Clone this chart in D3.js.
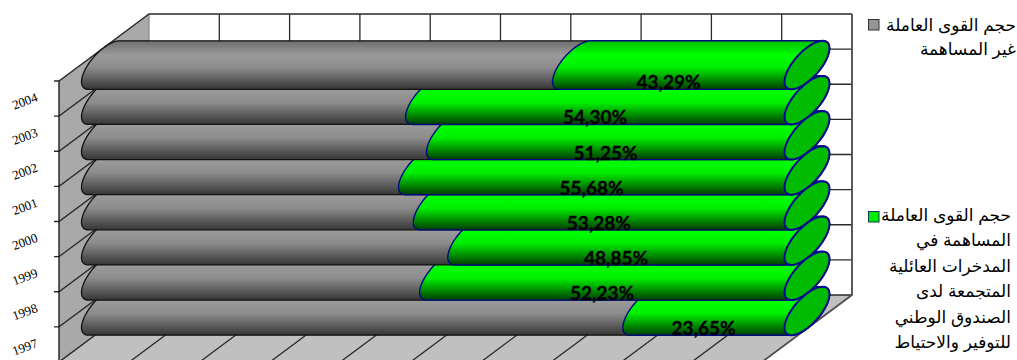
<!DOCTYPE html>
<html><head><meta charset="utf-8">
<script src="https://cdn.jsdelivr.net/npm/d3@7/dist/d3.min.js"></script>
<style>html,body{margin:0;padding:0;background:#fff;overflow:hidden}svg{display:block}</style>
</head><body><svg id="c" width="1017" height="360"></svg>
<script>
const years=["2004","2003","2002","2001","2000","1999","1998","1997"];
const greyShare=[67,46.1,49.07,45.1,47.2,52.1,48.1,77];
const greenLabels=["43,29%","54,30%","51,25%","55,68%","53,28%","48,85%","52,23%","23,65%"];
const legendGrey=["حجم القوى العاملة","غير المساهمة"];
const legendGreen=["حجم القوى العاملة","المساهمة في","المدخرات العائلية","المتجمعة لدى","الصندوق الوطني","للتوفير والاحتياط"];
const xTicks=d3.range(0,101,10);

const svg=d3.select("#c");
const x=d3.scaleLinear().domain([0,100]).range([59,762]);
const y=d3.scaleBand().domain(years).range([81,362]);
const dx=90,dy=-67;
const bh=y.bandwidth();
const line=d3.line();
const yEdges=years.map(d=>y(d)).concat([y.range()[1]]);

const defs=svg.append("defs");
function grad(id,stops){
  const g=defs.append("linearGradient").attr("id",id).attr("x1",0).attr("y1",0).attr("x2",0).attr("y2",1);
  stops.forEach(s=>g.append("stop").attr("offset",s[0]).attr("stop-color",s[1]));
}
grad("gGrey",[[0,"#6e6e6e"],[.3,"#9a9a9a"],[.55,"#8c8c8c"],[1,"#363636"]]);
grad("gGreen",[[0,"#00c000"],[.3,"#00ff00"],[.55,"#00ef00"],[1,"#003c00"]]);

const poly=(pts,fill)=>svg.append("path").attr("d",line(pts)+"Z").attr("fill",fill);
const x0=x(0),x1=x(100),yT=y.range()[0],yB=y.range()[1];
poly([[x0+dx,yT+dy],[x1+dx,yT+dy],[x1+dx,yB+dy],[x0+dx,yB+dy]],"#fff");
poly([[x0,yT],[x0+dx,yT+dy],[x0+dx,yB+dy],[x0,yB]],"#a9a9a9");
poly([[x0,yB],[x0+dx,yB+dy],[x1+dx,yB+dy],[x1,yB]],"#c0c0c0");

const grid=svg.append("g").attr("fill","none").attr("stroke","#2a2a2a").attr("stroke-width",1.3);
xTicks.forEach(t=>{
  grid.append("path").attr("d",line([[x(t)+dx,yT+dy],[x(t)+dx,yB+dy],[x(t),yB]]))
    .attr("stroke",t===0?"#8a8a8a":"#2a2a2a");
});
yEdges.forEach(v=>{
  grid.append("path").attr("d",line([[x0-5,v],[x0,v],[x0+dx,v+dy],[x1+dx,v+dy]]));
});
grid.append("path").attr("d",line([[x0,yT],[x0,yB]])).attr("stroke","#111");
grid.append("path").attr("d",line([[x1+dx,yT+dy],[x1+dx,yB+dy],[x1,yB]])).attr("stroke","#555").attr("stroke-width",1.6);

// tilted circle of a bar cross-section, halfway through the depth
const ax=dx/4, ay=dy/4, ry=bh/2;
const halfH=Math.hypot(ry,ay);
function pt(cx,cy,t){return [cx+Math.sin(t)*ax, cy+Math.cos(t)*ry+Math.sin(t)*ay];}
const tBottom=Math.atan2(ay,ry);
function arc(cx,cy,a,b){
  const n=40,out=[];
  for(let i=0;i<=n;i++)out.push(pt(cx,cy,a+(b-a)*i/n));
  return out;
}
function bodyPath(c0,c1,cy){
  const left=arc(c0,cy,tBottom,tBottom-Math.PI);
  const right=arc(c1,cy,tBottom+Math.PI,tBottom);
  return line(left.concat(right))+"Z";
}
const center=v=>x(v)+dx/2;
const cyOf=d=>y(d)+bh/2+dy/2;

const bars=svg.append("g");
years.slice().reverse().forEach(d=>{
  const i=years.indexOf(d),cy=cyOf(d),s=greyShare[i];
  bars.append("path").attr("d",bodyPath(center(0),center(100),cy))
    .attr("fill","url(#gGrey)").attr("stroke","#111").attr("stroke-width",1.3);
  bars.append("path").attr("d",bodyPath(center(s),center(100),cy))
    .attr("fill","url(#gGreen)").attr("stroke","#000a80").attr("stroke-width",1.4);
});
const caps=svg.append("g");
years.forEach(d=>{
  caps.append("path").attr("d",line(arc(center(100),cyOf(d),0,2*Math.PI))+"Z")
    .attr("fill","#00bb00").attr("stroke","#000a90").attr("stroke-width",2);
});

svg.append("g").selectAll("text").data(years).join("text")
  .attr("x",(d,i)=>(x(greyShare[i])+x(100))/2+dx/4)
  .attr("y",d=>cyOf(d)+halfH)
  .attr("text-anchor","middle")
  .attr("font-family","Lato, 'Open Sans', sans-serif").attr("font-weight",700).attr("font-size",19)
  .attr("fill","#000").attr("stroke","#000").attr("stroke-width",0.35).text((d,i)=>greenLabels[i]);

svg.append("g").selectAll("text").data(years).join("text")
  .attr("transform",d=>`translate(25,${y(d)+bh/2+3}) rotate(-20)`)
  .attr("y",4)
  .attr("text-anchor","middle")
  .attr("font-family","'Liberation Serif',serif").attr("font-size",13)
  .attr("fill","#000").text(d=>d);

function legend(lines,color,stroke,top,right,y0,step){
  svg.append("rect").attr("x",868.5).attr("y",top).attr("width",10.5).attr("height",10.5)
    .attr("fill",color).attr("stroke",stroke).attr("stroke-width",1);
  svg.append("g").selectAll("text").data(lines).join("text")
    .attr("x",right).attr("y",(d,i)=>y0+i*step)
    .attr("text-anchor","start").attr("direction","rtl")
    .attr("font-family","'Liberation Sans','DejaVu Sans',sans-serif").attr("font-size",17)
    .attr("fill","#000").text(d=>d);
}
legend(legendGrey,"#969696","#333",19.5,1016,31,24);
legend(legendGreen,"#00ee00","#0a3a55",211.5,1011,221,25.4);
</script></body></html>
